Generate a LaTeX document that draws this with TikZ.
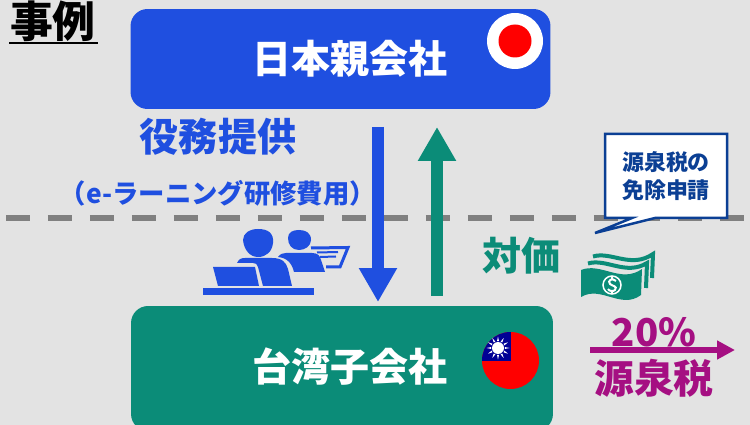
\documentclass[tikz,border=0pt]{standalone}
\usepackage{fontspec}
\setmainfont{Noto Sans CJK JP}
\newfontfamily\cjkheavy{Noto Sans CJK JP Black}
\usetikzlibrary{arrows.meta,calc}
\definecolor{bgray}{HTML}{E3E3E3}
\definecolor{cblue}{HTML}{1F4FE0}
\definecolor{cgreen}{HTML}{0B8C78}
\definecolor{cnavy}{HTML}{0B3F94}
\definecolor{cpurple}{HTML}{A50F82}
\definecolor{tblue}{HTML}{000095}

\begin{document}
\begin{tikzpicture}
      [   x=0.02cm,y=-0.02cm,
          cbox/.style={fill=#1,rounded corners=0.34cm,minimum width=8.4cm,minimum height=2cm,inner sep=0pt,
              text=white,font=\fontsize{22.2}{26}\selectfont\bfseries},
          clabel/.style={text=#1,inner sep=0pt,font=\fontsize{22.2}{26}\selectfont\bfseries},
          flow/.style={#1,line width=0.23cm,-{Triangle[width=0.72cm,length=0.68cm]}},
      ]
          \useasboundingbox (0,0) rectangle (750,425);
          \fill[bgray] (0,0) rectangle (750,425);
          \clip (0,0) rectangle (750,425);

          % title
          \node[inner sep=0pt,font=\fontsize{24.4}{28}\selectfont\cjkheavy] (title) at (53,21) {事例};
          \coordinate (ul-a) at (9,43);
          \coordinate (ul-b) at (98,43);
          \draw[line width=0.05cm] (ul-a) -- (ul-b);

          % boundary
          \coordinate (bd-a) at (6,218);
          \coordinate (bd-b) at (746,218);
          \draw[gray,line width=0.12cm,dash pattern=on 0.48cm off 0.36cm] (bd-a) -- (bd-b);

          % companies
          \node[cbox=cblue] (jp) at (340.5,59) {};
          \node[cbox=cgreen,minimum width=8.44cm,minimum height=2.5cm] (tw) at (342,368.5) {};
          \node[text=white,inner sep=0pt,font=\fontsize{22.2}{26}\selectfont\bfseries] (jp-name) at (350,59) {日本親会社};
          \node[text=white,inner sep=0pt,font=\fontsize{22.2}{26}\selectfont\bfseries] (tw-name) at (350,367) {台湾子会社};

          % flows
          \coordinate (down-a) at (378,127);
          \coordinate (down-b) at (378,302);
          \coordinate (up-a) at (437,296);
          \coordinate (up-b) at (437,127);
          \draw[flow=cblue] (down-a) -- (down-b);
          \draw[flow=cgreen] (up-a) -- (up-b);

          \node[clabel=cblue] (service) at (218,137) {役務提供};
          \node[clabel=cblue,font=\fontsize{15}{18}\selectfont\bfseries] (elearn) at (218,193) {（e-ラーニング研修費用）};
          \node[clabel=cgreen] (price) at (521,256) {対価};

          % flags
          \node[circle,fill=white,minimum size=1.12cm,inner sep=0pt] (jp-flag) at (515,41) {};
          \node[circle,fill=red,minimum size=0.66cm,inner sep=0pt] (jp-sun) at (515,41) {};
          \node[circle,fill=red,minimum size=1.14cm,inner sep=0pt] (tw-flag) at (510.5,360.5) {};
          \begin{scope}
              \clip (510.5,360.5) circle (0.57cm);
              \fill[tblue] (480,330) rectangle (511,361);
          \end{scope}
          \foreach \x in {0,30,...,330}
          {   \fill[white] ($(498,348)+(\x-8:0.14cm)$) -- ($(498,348)+(\x:0.23cm)$) -- ($(498,348)+(\x+8:0.14cm)$) -- cycle;
          }
          \fill[white] (498,348) circle (0.12cm);

          % note
          \draw[cnavy,fill=white,line width=0.05cm,line join=miter]
              (605,134) -- (727,134) -- (727,218) -- (655,218) -- (595,233) -- (632,218) -- (605,218) -- cycle;
          \node[text=cnavy,inner sep=0pt,align=center,font=\fontsize{12.5}{16}\selectfont\bfseries] (note) at (666,176) {源泉税の\\免除申請};

          % money
          \fill[cgreen] (581,270) .. controls (601,262) and (621,284) .. (642,269) -- (641,295)
              .. controls (621,310) and (601,285) .. (581,297) -- cycle;
          \draw[cgreen,line width=0.08cm] (588,263.5) .. controls (606,258) and (626,276) .. (647,263) -- (646,288);
          \draw[cgreen,line width=0.08cm] (593,256.5) .. controls (611,251) and (631,269) .. (653,254) -- (652,278);
          \draw[white,line width=0.03cm] (612,285) circle (0.18cm);
          \draw[white,line width=0.04cm] (616,281) .. controls (612,277) and (607,281) .. (610,284)
              .. controls (612,286) and (618,286) .. (615,290) .. controls (613,292) and (609,291) .. (608,289);
          \draw[white,line width=0.03cm] (612,276) -- (612,279) (612,291) -- (612,294);

          % tax
          \node[clabel=cpurple,font=\fontsize{21.8}{26}\selectfont\bfseries] (rate) at (654,332) {20\%};
          \coordinate (tax-a) at (590,350);
          \coordinate (tax-b) at (735,350);
          \draw[cpurple,line width=0.12cm,-{Triangle[width=0.36cm,length=0.36cm]}] (tax-a) -- (tax-b);
          \node[clabel=cpurple,font=\fontsize{22.6}{26}\selectfont\bfseries] (wh) at (654,378) {源泉税};

          % staff
          \fill[cblue] (203,288) rectangle (314,295);
          \fill[cblue] (213,267) -- (255,267) -- (259,286) -- (218,286) -- cycle;
          \fill[cblue] (258,229) .. controls (268,229) and (274,233) .. (273,243)
              .. controls (272,252) and (266,257) .. (258,257) .. controls (250,257) and (244,250) .. (243,240)
              .. controls (243,233) and (250,229) .. (258,229) -- cycle;
          \fill[cblue] (237,263) .. controls (239,259) and (241,258) .. (245,258) -- (272,258)
              .. controls (282,258) and (286,262) .. (288,269) -- (292,286) -- (263,286) -- (258,267)
              .. controls (257,264) and (256,263) .. (253,263) -- cycle;
          \fill[cblue] (299,230) .. controls (306,230) and (311,233) .. (311,240)
              .. controls (311,246) and (305,250) .. (299,250) .. controls (292,250) and (288,245) .. (288,238)
              .. controls (288,232) and (293,230) .. (299,230) -- cycle;
          \fill[cblue] (278,257) .. controls (280,254) and (283,253) .. (286,253) -- (312,253)
              .. controls (318,253) and (320,256) .. (321,260) -- (325,272) -- (294,272)
              .. controls (292,264) and (288,258) .. (278,257) -- cycle;
          \draw[cblue,line width=0.06cm] (311,248) -- (348,247.5) -- (340,267) -- (326,267);
          \draw[cblue,line width=0.04cm] (317,252.5) -- (338,252) (320,257) -- (336,256.5);
    \end{tikzpicture}
\end{document}
